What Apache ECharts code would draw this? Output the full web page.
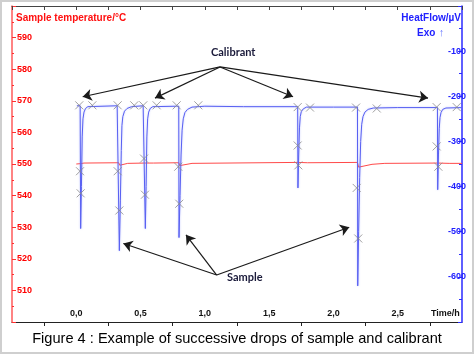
<!DOCTYPE html>
<html><head><meta charset="utf-8">
<script src="https://cdn.jsdelivr.net/npm/echarts@6/dist/echarts.min.js"></script>
<style>html,body{margin:0;padding:0;background:#fff}#c{width:475px;height:356px}</style>
</head><body><div id="c"></div>
<script>
// Temperature (left axis, °C)
var tempTime  = [0.000, 0.030, 0.036, 0.060, 0.330, 0.338, 0.400, 0.533, 0.540, 0.600, 0.797, 0.806, 0.900, 1.722, 1.730, 1.800, 2.187, 2.196, 2.300, 2.400, 2.809, 2.818, 2.900, 3.000];
var tempValue = [550.0, 550.1, 549.8, 550.3, 550.4, 549.6, 550.2, 550.3, 549.8, 550.3, 550.4, 549.5, 550.2, 550.5, 550.0, 550.4, 550.5, 549.0, 549.9, 550.2, 550.3, 549.8, 550.2, 550.2];

// Heat flow (right axis, µV)
var hfTime  = [0.005, 0.030, 0.034, 0.040, 0.046, 0.052, 0.060, 0.072, 0.090,
               0.318, 0.333, 0.335, 0.343, 0.350, 0.355, 0.362, 0.375, 0.395, 0.430,
               0.520, 0.535, 0.537, 0.543, 0.549, 0.555, 0.563, 0.575, 0.595,
               0.780, 0.797, 0.799, 0.807, 0.815, 0.823, 0.832, 0.845, 0.865, 0.900,
               1.000, 1.300, 1.600,
               1.700, 1.722, 1.724, 1.730, 1.736, 1.742, 1.750, 1.765, 1.790,
               2.000, 2.170, 2.187, 2.189, 2.196, 2.204, 2.212, 2.220, 2.230, 2.245, 2.270, 2.310,
               2.500, 2.790, 2.809, 2.811, 2.817, 2.823, 2.829, 2.837, 2.850, 2.875, 3.000];
var hfValue = [-221, -221, -493, -400, -290, -250, -235, -227, -223,
               -221, -221, -542, -430, -320, -265, -245, -233, -227, -223,
               -221, -221, -493, -400, -290, -250, -235, -227, -223,
               -222, -222, -513, -420, -330, -275, -250, -236, -229, -224,
               -222, -223, -223,
               -223, -223, -403, -330, -270, -245, -234, -228, -224,
               -224, -224, -224, -620, -500, -380, -300, -262, -245, -235, -229, -226,
               -225, -225, -225, -407, -330, -272, -247, -236, -229, -226, -225];

// Curve markers (×)
var markTime  = [0.023, 0.125, 0.029, 0.034, 0.322, 0.451, 0.521, 0.625, 0.781, 0.949, 0.322, 0.335, 0.527, 0.534, 0.793, 0.801,
                 1.722, 1.818, 1.722, 1.727, 2.176, 2.337, 2.181, 2.193, 2.803, 2.959, 2.803, 2.816];
var markValue = [-220, -220, -366, -415, -220, -220, -220, -220, -220, -220, -366, -453, -338, -418, -356, -438,
                 -224, -225, -309, -353, -225, -227, -403, -515, -224, -224, -311, -356];

// Annotation arrows [fromTime, fromValue, toTime, toValue]
var calibrantArrows = [[1.118, -135, 0.050, -201], [1.118, -135, 0.612, -204], [1.118, -135, 1.686, -201], [1.118, -135, 2.736, -204]];
var sampleArrows    = [[1.092, -596, 0.366, -526], [1.092, -596, 0.853, -507], [1.092, -596, 2.123, -490]];

var xLabels = [0, 0.5, 1.0, 1.5, 2.0, 2.5];

function pairs(a, b) { return a.map(function (v, i) { return [v, b[i]]; }); }
function arrows(list) {
  return list.map(function (a) { return [{ coord: [a[0], a[1]] }, { coord: [a[2], a[3]] }]; });
}

var chart = echarts.init(document.getElementById('c'), null, { renderer: 'canvas' });
var F = 'Liberation Sans, Arial, sans-serif';
chart.setOption({
  animation: false,
  backgroundColor: '#fff',
  grid: { left: 12, right: 13, top: 6, bottom: 34 },
  xAxis: [{
    type: 'value', position: 'bottom', min: -0.5, max: 3.0, interval: 0.5,
    axisLine: { onZero: false, lineStyle: { color: '#222', width: 1 } },
    axisTick: { show: false },
    minorTick: { show: true, splitNumber: 2, length: 4, lineStyle: { color: '#222' } },
    splitLine: { show: false },
    axisLabel: {
      inside: true, margin: 4, color: '#111', fontFamily: F, fontSize: 9, fontWeight: 'bold',
      formatter: function (v) {
        for (var i = 0; i < xLabels.length; i++) if (Math.abs(xLabels[i] - v) < 1e-6) return v.toFixed(1).replace('.', ',');
        return '';
      }
    }
  }, {
    type: 'value', position: 'top', min: -0.5, max: 3.0, interval: 0.25,
    axisLine: { onZero: false, lineStyle: { color: '#444', width: 1 } },
    axisTick: { inside: true, length: 4, lineStyle: { color: '#444' } },
    axisLabel: { show: false }, splitLine: { show: false }
  }],
  yAxis: [{
    type: 'value', position: 'left', min: 500, max: 600, interval: 10,
    axisLine: { show: true, onZero: false, lineStyle: { color: '#ff5a5a', width: 1.5 } },
    axisTick: { show: true, inside: true, length: 4, lineStyle: { color: '#ff3030' } },
    minorTick: { show: true, splitNumber: 2, length: 2, lineStyle: { color: '#ff3030' } },
    splitLine: { show: false },
    axisLabel: {
      inside: true, margin: 5, color: '#ff0000', fontFamily: F, fontSize: 9, fontWeight: 'bold',
      formatter: function (v) { return (v <= 500 || v >= 600) ? '' : String(v); }
    }
  }, {
    type: 'value', position: 'right', min: -700, max: 0, interval: 100,
    axisLine: { show: true, onZero: false, lineStyle: { color: '#2a2aff', width: 1.5 } },
    axisTick: { show: true, inside: true, length: 4, lineStyle: { color: '#2a2aff' } },
    minorTick: { show: true, splitNumber: 2, length: 3, lineStyle: { color: '#2a2aff' } },
    splitLine: { show: false },
    axisLabel: {
      inside: true, margin: -4, color: '#2020ff', fontFamily: F, fontSize: 9, fontWeight: 'bold',
      formatter: function (v) { return (v <= -700 || v >= 0) ? '' : String(v); }
    }
  }],
  series: [{
    type: 'line', name: 'temp', xAxisIndex: 0, yAxisIndex: 0, data: pairs(tempTime, tempValue),
    symbol: 'none', lineStyle: { color: '#ff4a4a', width: 1 }, z: 2
  }, {
    type: 'line', name: 'heat', xAxisIndex: 0, yAxisIndex: 1, data: pairs(hfTime, hfValue),
    symbol: 'none',
    lineStyle: { color: '#5860f2', width: 1, shadowColor: 'rgba(140,150,255,0.6)', shadowBlur: 2 },
    z: 3,
    markLine: {
      silent: true, symbol: ['none', 'arrow'], symbolSize: 9,
      label: { show: false },
      lineStyle: { color: '#1a1a1a', width: 1.2, type: 'solid' },
      data: arrows(calibrantArrows).concat(arrows(sampleArrows))
    }
  }, {
    type: 'scatter', name: 'markers', xAxisIndex: 0, yAxisIndex: 1, data: pairs(markTime, markValue),
    symbol: 'path://M0,0L10,10M10,0L0,10', symbolSize: 8,
    itemStyle: { color: 'rgba(0,0,0,0)', borderColor: '#8a8a8a', borderWidth: 1 }, z: 4
  }],
  graphic: [
    { type: 'rect', shape: { x: 1, y: 1, width: 472, height: 352 }, style: { fill: 'none', stroke: '#cfcfcf', lineWidth: 2 }, silent: true },
    { type: 'text', left: 16, top: 13, style: { text: 'Sample temperature/°C', fill: '#ff1010', font: 'bold 10px ' + F } },
    { type: 'text', right: 14, top: 13, style: { text: 'HeatFlow/µV', fill: '#2020ff', font: 'bold 10px ' + F } },
    { type: 'text', left: 417, top: 27, style: { text: '{b|Exo} {a|↑}', rich: { b: { fill: '#2020ff', font: 'bold 10px ' + F }, a: { fill: '#6a7aff', font: '11px ' + F } } } },
    { type: 'text', left: 431, top: 309, style: { text: 'Time/h', fill: '#111', font: 'bold 9px ' + F } },
    { type: 'text', left: 211, top: 47, style: { text: 'Calibrant', fill: '#1a1a3a', font: 'bold 11px Lato, "Open Sans", sans-serif' } },
    { type: 'text', left: 227, top: 272, style: { text: 'Sample', fill: '#1a1a3a', font: 'bold 11px Lato, "Open Sans", sans-serif' } },
    { type: 'text', x: 237, y: 339, style: { text: 'Figure 4 : Example of successive drops of sample and calibrant', fill: '#000', font: '14.6px ' + F, textAlign: 'center', textVerticalAlign: 'middle' } }
  ]
});
</script></body></html>
